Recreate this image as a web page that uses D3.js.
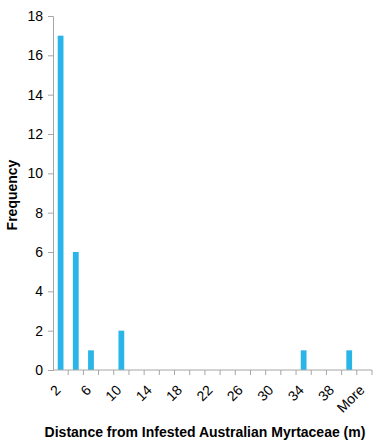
<!DOCTYPE html>
<html>
<head>
<meta charset="utf-8">
<script src="https://cdn.jsdelivr.net/npm/d3@7"></script>
<style>
  body { margin: 0; background: #fff; }
  svg text { font-family: "Liberation Sans", Arial, sans-serif; fill: #000; }
</style>
</head>
<body>
<svg id="chart"></svg>
<script>
const bins = ['2','4','6','8','10','12','14','16','18','20','22','24','26','28','30','32','34','36','38','40','More'];
const counts = [17, 6, 1, 0, 2, 0, 0, 0, 0, 0, 0, 0, 0, 0, 0, 0, 1, 0, 0, 1, 0];
const yTicks = [0, 2, 4, 6, 8, 10, 12, 14, 16, 18];

const W = 386, H = 444;
const margin = { top: 16, right: 14, bottom: 74, left: 53 };
const width = W - margin.left - margin.right;
const height = H - margin.top - margin.bottom;
const axisColor = '#a6a6a6';

const svg = d3.select('#chart').attr('width', W).attr('height', H);
const g = svg.append('g').attr('transform', `translate(${margin.left},${margin.top})`);

const x = d3.scaleBand().domain(bins).range([0, width]).paddingInner(0).paddingOuter(0);
const y = d3.scaleLinear().domain([0, 18]).range([height, 0]);

// bars
const bw = x.bandwidth() * 0.38;
g.selectAll('.bar')
  .data(bins.map((b, i) => ({ bin: b, v: counts[i] })).filter(d => d.v > 0))
  .enter()
  .append('rect')
  .attr('class', 'bar')
  .attr('x', d => x(d.bin) + (x.bandwidth() - bw) / 2)
  .attr('width', bw)
  .attr('y', d => y(d.v))
  .attr('height', d => height - y(d.v))
  .attr('fill', '#29b5e8');

// y axis
const yAxis = g.append('g')
  .call(d3.axisLeft(y).tickValues(yTicks).tickSize(5).tickPadding(5));
yAxis.select('.domain').attr('stroke', axisColor);
yAxis.selectAll('.tick line').attr('stroke', axisColor);
yAxis.selectAll('.tick text').attr('font-size', 14).attr('fill', '#000')
  .attr('font-family', '"Liberation Sans", Arial, sans-serif');

// x axis: ticks on category boundaries
const xAxis = g.append('g').attr('transform', `translate(0,${height})`);
xAxis.append('line')
  .attr('x1', 0).attr('x2', width)
  .attr('stroke', axisColor);
xAxis.selectAll('.xt')
  .data(bins.map((b, i) => i + 1))
  .enter()
  .append('line')
  .attr('class', 'xt')
  .attr('x1', i => x.step() * i).attr('x2', i => x.step() * i)
  .attr('y1', 0).attr('y2', 5)
  .attr('stroke', axisColor);
xAxis.selectAll('.xl')
  .data(bins.filter((b, i) => i % 2 === 0))
  .enter()
  .append('text')
  .attr('class', 'xl')
  .attr('font-size', 14)
  .attr('text-anchor', 'end')
  .attr('transform', d => `translate(${x(d) + x.bandwidth() / 2 + 1},${21}) rotate(-45)`)
  .text(d => d);

// axis titles
svg.append('text')
  .attr('font-size', 14)
  .attr('font-weight', 'bold')
  .attr('text-anchor', 'middle')
  .attr('transform', `translate(17,${margin.top + height / 2 + 2}) rotate(-90)`)
  .text('Frequency');

svg.append('text')
  .attr('font-size', 14)
  .attr('font-weight', 'bold')
  .attr('text-anchor', 'middle')
  .attr('x', 205)
  .attr('y', 437)
  .text('Distance from Infested Australian Myrtaceae (m)');
</script>
</body>
</html>
